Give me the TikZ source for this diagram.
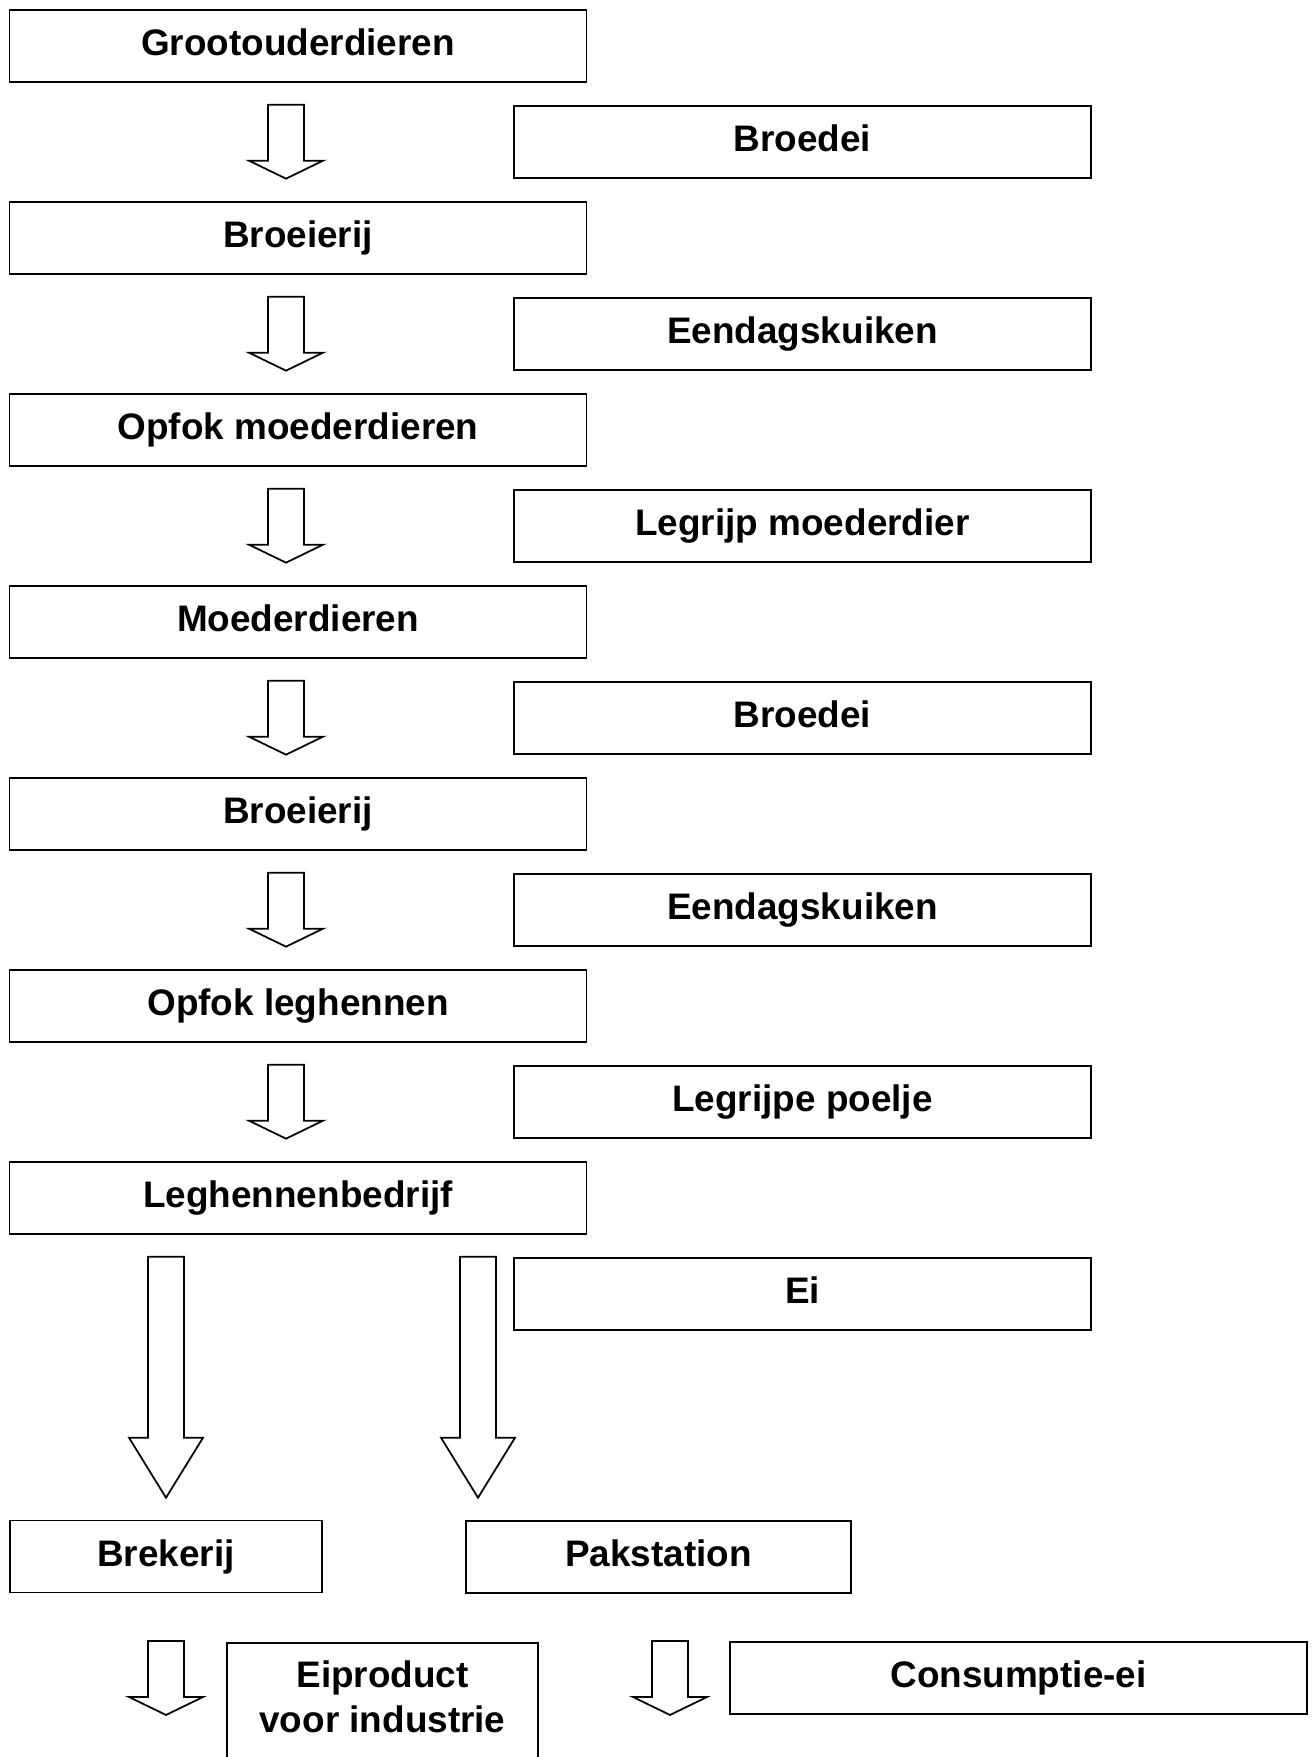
\documentclass[tikz,border=0pt]{standalone}
\usepackage{fontspec}
\setmainfont{Liberation Sans}
\usepackage{tikz}
\usetikzlibrary{calc}
\tikzset{
  basisvak/.style={draw=black, line width=0.55pt, rectangle, inner sep=0pt, minimum height=0.72cm, font=\fontsize{10.5}{12.8}\selectfont\bfseries},
  vak/.style={basisvak, text height=8pt, text depth=2.6pt},
  breedvak/.style={vak, minimum width=5.77cm},
  pijlrand/.style={draw=black, line width=0.5pt, line join=miter, fill=white},
}
% block arrow: [head length] {top} {tip}
\newcommand{\blokpijl}[3][0.18]{%
  \draw[pijlrand] let \p1=(#2), \p2=(#3) in
    (\x1-0.18cm,\y1) -- (\x1-0.18cm,\y2+#1cm) -- (\x1-0.37cm,\y2+#1cm) -- (\x2,\y2)
    -- (\x1+0.37cm,\y2+#1cm) -- (\x1+0.18cm,\y2+#1cm) -- (\x1+0.18cm,\y1) -- cycle;}

\begin{document}
\begin{tikzpicture}
  \useasboundingbox (0,0) rectangle (13.14,-17.57);
  \clip (0,0) rectangle (13.14,-17.57);
  % left column
  \node[breedvak] (grootouder) at (2.98,-0.457) {Grootouderdieren};
  \node[breedvak] (broeierijA) at (2.98,-2.377) {Broeierij};
  \node[breedvak] (opfokmoeder) at (2.98,-4.297) {Opfok moederdieren};
  \node[breedvak] (moeder) at (2.98,-6.217) {Moederdieren};
  \node[breedvak] (broeierijB) at (2.98,-8.137) {Broeierij};
  \node[breedvak] (opfokleg) at (2.98,-10.057) {Opfok leghennen};
  \node[breedvak] (leghennen) at (2.98,-11.977) {Leghennenbedrijf};
  % right column
  \node[breedvak] (broedeiA) at (8.025,-1.417) {Broedei};
  \node[breedvak] (kuikenA) at (8.025,-3.337) {Eendagskuiken};
  \node[breedvak] (legrijpmoeder) at (8.025,-5.257) {Legrijp moederdier};
  \node[breedvak] (broedeiB) at (8.025,-7.177) {Broedei};
  \node[breedvak] (kuikenB) at (8.025,-9.097) {Eendagskuiken};
  \node[breedvak] (poelje) at (8.025,-11.017) {Legrijpe poelje};
  \node[breedvak] (ei) at (8.025,-12.937) {Ei};
  % bottom part
  \node[vak, minimum width=3.12cm] (brekerij) at (1.66,-15.565) {Brekerij};
  \node[vak, minimum width=3.85cm] (pakstation) at (6.585,-15.57) {Pakstation};
  \node[basisvak, minimum width=3.11cm, minimum height=1.22cm, anchor=north, align=center, text depth=4pt] (eiproduct) at (3.825,-16.42) {Eiproduct\\voor industrie};
  \node[breedvak] (consumptie) at (10.185,-16.78) {Consumptie-ei};

  \coordinate (pijlas) at (2.86,0);
  \coordinate (pakas) at (4.78,0);
  \coordinate (consas) at (6.70,0);
  \coordinate (breekpunt) at (1.66,-14.977);
  \coordinate (pakpunt) at (4.78,-14.977);

  \blokpijl{pijlas |- broedeiA.north}{pijlas |- broedeiA.south}
  \blokpijl{pijlas |- kuikenA.north}{pijlas |- kuikenA.south}
  \blokpijl{pijlas |- legrijpmoeder.north}{pijlas |- legrijpmoeder.south}
  \blokpijl{pijlas |- broedeiB.north}{pijlas |- broedeiB.south}
  \blokpijl{pijlas |- kuikenB.north}{pijlas |- kuikenB.south}
  \blokpijl{pijlas |- poelje.north}{pijlas |- poelje.south}
  \blokpijl[0.60]{brekerij.north |- ei.north}{breekpunt}
  \blokpijl[0.60]{pakas |- ei.north}{pakpunt}
  \blokpijl{brekerij.north |- consumptie.north}{brekerij.north |- consumptie.south}
  \blokpijl{consas |- consumptie.north}{consas |- consumptie.south}
\end{tikzpicture}
\end{document}
